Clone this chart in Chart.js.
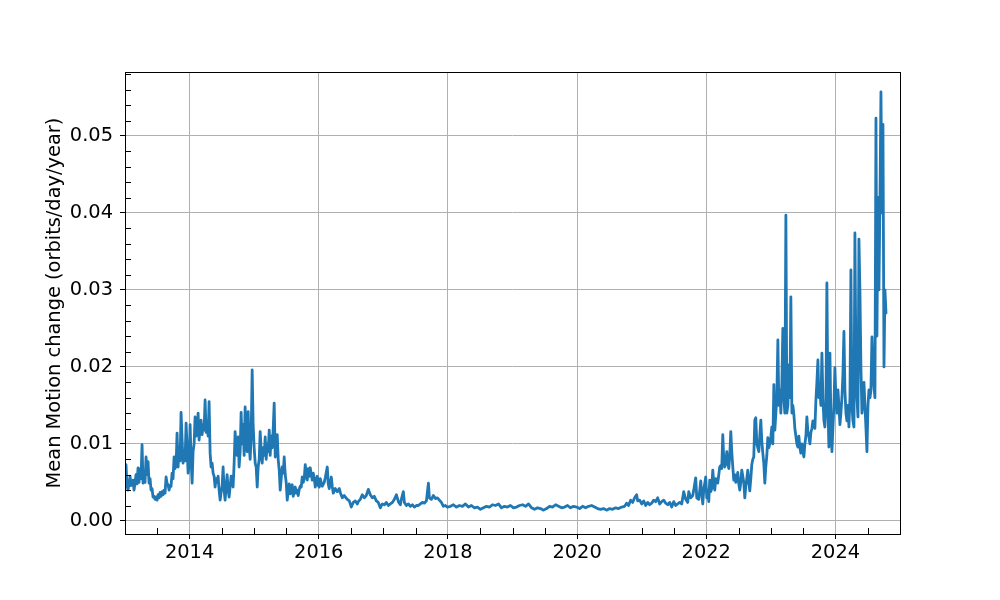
<!DOCTYPE html>
<html><head><meta charset="utf-8">
<script src="https://cdn.jsdelivr.net/npm/chart.js@4.4.1/dist/chart.umd.min.js"></script>
<style>html,body{margin:0;padding:0;background:#fff}</style>
</head><body>
<canvas id="c" width="1000" height="600" style="width:1000px;height:600px;display:block"></canvas>
<script>
// decimal-year dates and mean motion change values (orbits/day/year)
const d2013 = [2013.000,2013.016,2013.031,2013.047,2013.078,2013.093,2013.124,2013.140,2013.171,2013.186,2013.202,2013.217,2013.233,2013.248,2013.264,2013.279,2013.295,2013.310,2013.326,2013.341,2013.357,2013.372,2013.388,2013.403,2013.419,2013.434,2013.450,2013.465,2013.481,2013.496,2013.512,2013.527,2013.543,2013.558,2013.574,2013.589,2013.605,2013.620,2013.636,2013.651,2013.667,2013.682,2013.698,2013.713,2013.729,2013.744,2013.760,2013.775,2013.791,2013.806,2013.822,2013.837,2013.853,2013.868,2013.884,2013.899,2013.915,2013.930,2013.946,2013.961,2013.977,2013.992];
const v2013 = [0.0060,0.0073,0.0045,0.0040,0.0058,0.0046,0.0053,0.0040,0.0060,0.0048,0.0069,0.0050,0.0068,0.0055,0.0099,0.0049,0.0062,0.0050,0.0083,0.0060,0.0077,0.0049,0.0055,0.0040,0.0042,0.0031,0.0032,0.0028,0.0031,0.0027,0.0034,0.0030,0.0037,0.0032,0.0038,0.0034,0.0040,0.0036,0.0057,0.0049,0.0047,0.0040,0.0046,0.0045,0.0062,0.0055,0.0083,0.0068,0.0072,0.0114,0.0070,0.0096,0.0078,0.0141,0.0106,0.0075,0.0092,0.0078,0.0127,0.0095,0.0062,0.0072];
const d2014 = [2014.008,2014.023,2014.039,2014.054,2014.070,2014.085,2014.101,2014.116,2014.132,2014.147,2014.163,2014.178,2014.194,2014.209,2014.225,2014.240,2014.256,2014.271,2014.287,2014.302,2014.318,2014.333,2014.349,2014.364,2014.380,2014.395,2014.411,2014.426,2014.442,2014.457,2014.473,2014.488,2014.504,2014.519,2014.535,2014.550,2014.566,2014.581,2014.597,2014.612,2014.628,2014.643,2014.659,2014.674,2014.690,2014.705,2014.721,2014.736,2014.752,2014.767,2014.783,2014.798,2014.814,2014.829,2014.845,2014.860,2014.876,2014.891,2014.907,2014.922,2014.938,2014.953,2014.969,2014.984];
const v2014 = [0.0125,0.0080,0.0049,0.0090,0.0100,0.0135,0.0110,0.0115,0.0140,0.0105,0.0120,0.0131,0.0112,0.0125,0.0118,0.0157,0.0115,0.0130,0.0110,0.0155,0.0088,0.0070,0.0075,0.0062,0.0058,0.0044,0.0055,0.0050,0.0058,0.0040,0.0027,0.0037,0.0045,0.0070,0.0040,0.0027,0.0045,0.0060,0.0040,0.0031,0.0045,0.0058,0.0050,0.0044,0.0075,0.0116,0.0096,0.0085,0.0109,0.0070,0.0090,0.0141,0.0100,0.0125,0.0085,0.0148,0.0110,0.0090,0.0142,0.0099,0.0080,0.0110,0.0196,0.0125];
const d2015 = [2015.000,2015.016,2015.031,2015.047,2015.062,2015.078,2015.093,2015.109,2015.124,2015.140,2015.155,2015.171,2015.186,2015.202,2015.217,2015.233,2015.248,2015.264,2015.279,2015.295,2015.310,2015.326,2015.341,2015.357,2015.372,2015.388,2015.403,2015.419,2015.434,2015.450,2015.465,2015.481,2015.496,2015.512,2015.527,2015.543,2015.558,2015.574,2015.589,2015.605,2015.620,2015.636,2015.651,2015.667,2015.682,2015.698,2015.713,2015.729,2015.744,2015.760,2015.775,2015.791,2015.806,2015.822,2015.837,2015.853,2015.868,2015.884,2015.899,2015.915,2015.930,2015.946,2015.961,2015.977,2015.992];
const v2015 = [0.0095,0.0075,0.0070,0.0044,0.0070,0.0080,0.0116,0.0090,0.0075,0.0095,0.0085,0.0109,0.0080,0.0100,0.0090,0.0118,0.0085,0.0110,0.0095,0.0120,0.0153,0.0083,0.0095,0.0112,0.0080,0.0066,0.0040,0.0055,0.0070,0.0062,0.0083,0.0060,0.0050,0.0027,0.0040,0.0048,0.0035,0.0043,0.0047,0.0032,0.0040,0.0044,0.0036,0.0040,0.0033,0.0041,0.0045,0.0044,0.0057,0.0050,0.0055,0.0073,0.0060,0.0053,0.0068,0.0058,0.0069,0.0060,0.0053,0.0062,0.0056,0.0044,0.0052,0.0058,0.0046];
const d2016 = [2016.008,2016.023,2016.054,2016.085,2016.101,2016.132,2016.147,2016.163,2016.194,2016.209,2016.225,2016.256,2016.287,2016.318,2016.333,2016.364,2016.395,2016.411,2016.442,2016.473,2016.504,2016.535,2016.566,2016.597,2016.612,2016.643,2016.674,2016.705,2016.736,2016.767,2016.798,2016.829,2016.860,2016.891,2016.922,2016.953,2016.984];
const v2016 = [0.0044,0.0055,0.0045,0.0050,0.0056,0.0070,0.0048,0.0042,0.0057,0.0045,0.0036,0.0042,0.0038,0.0042,0.0037,0.0030,0.0033,0.0031,0.0028,0.0026,0.0018,0.0024,0.0026,0.0022,0.0025,0.0028,0.0034,0.0030,0.0033,0.0041,0.0034,0.0030,0.0032,0.0026,0.0024,0.0017,0.0022];
const d2017 = [2017.016,2017.047,2017.078,2017.109,2017.140,2017.171,2017.202,2017.233,2017.264,2017.279,2017.310,2017.326,2017.357,2017.388,2017.419,2017.450,2017.481,2017.512,2017.543,2017.574,2017.605,2017.636,2017.667,2017.698,2017.713,2017.744,2017.775,2017.806,2017.837,2017.868,2017.899,2017.930,2017.961,2017.992];
const v2017 = [0.0021,0.0024,0.0020,0.0022,0.0024,0.0028,0.0034,0.0025,0.0021,0.0028,0.0038,0.0024,0.0020,0.0022,0.0019,0.0021,0.0018,0.0020,0.0020,0.0022,0.0024,0.0023,0.0026,0.0049,0.0030,0.0028,0.0033,0.0029,0.0030,0.0027,0.0024,0.0019,0.0020,0.0018];
const d2018 = [2018.039,2018.085,2018.132,2018.178,2018.225,2018.271,2018.318,2018.364,2018.411,2018.457,2018.504,2018.550,2018.597,2018.643,2018.690,2018.736,2018.783,2018.829,2018.876,2018.922,2018.969];
const v2018 = [0.0019,0.0021,0.0018,0.0020,0.0019,0.0022,0.0018,0.0020,0.0017,0.0018,0.0015,0.0017,0.0019,0.0018,0.0021,0.0020,0.0022,0.0017,0.0019,0.0018,0.0020];
const d2019 = [2019.016,2019.062,2019.109,2019.155,2019.202,2019.248,2019.295,2019.341,2019.388,2019.434,2019.481,2019.527,2019.574,2019.620,2019.667,2019.713,2019.760,2019.806,2019.853,2019.899,2019.946,2019.992];
const v2019 = [0.0017,0.0018,0.0020,0.0021,0.0019,0.0022,0.0017,0.0015,0.0017,0.0016,0.0014,0.0016,0.0019,0.0018,0.0021,0.0019,0.0017,0.0018,0.0020,0.0017,0.0019,0.0018];
const d2020 = [2020.039,2020.085,2020.132,2020.178,2020.225,2020.271,2020.318,2020.364,2020.411,2020.457,2020.504,2020.550,2020.597,2020.643,2020.690,2020.736,2020.767,2020.798,2020.829,2020.860,2020.891,2020.922,2020.938,2020.969];
const v2020 = [0.0016,0.0019,0.0017,0.0019,0.0020,0.0018,0.0016,0.0015,0.0016,0.0014,0.0016,0.0015,0.0017,0.0016,0.0018,0.0019,0.0023,0.0020,0.0027,0.0024,0.0030,0.0034,0.0026,0.0027];
const d2021 = [2021.000,2021.031,2021.062,2021.093,2021.124,2021.155,2021.186,2021.217,2021.248,2021.279,2021.310,2021.341,2021.372,2021.403,2021.434,2021.465,2021.496,2021.527,2021.558,2021.589,2021.620,2021.651,2021.682,2021.713,2021.729,2021.760,2021.791,2021.806,2021.837,2021.853,2021.884,2021.915,2021.930,2021.946,2021.961,2021.992];
const v2021 = [0.0022,0.0026,0.0020,0.0024,0.0021,0.0023,0.0027,0.0025,0.0030,0.0022,0.0025,0.0027,0.0023,0.0021,0.0024,0.0018,0.0025,0.0020,0.0022,0.0024,0.0022,0.0038,0.0028,0.0024,0.0038,0.0030,0.0033,0.0040,0.0056,0.0030,0.0028,0.0052,0.0035,0.0022,0.0040,0.0057];
const d2022 = [2022.008,2022.023,2022.039,2022.054,2022.070,2022.085,2022.101,2022.116,2022.132,2022.147,2022.163,2022.178,2022.194,2022.209,2022.225,2022.240,2022.256,2022.271,2022.287,2022.302,2022.318,2022.333,2022.349,2022.364,2022.380,2022.395,2022.411,2022.426,2022.442,2022.457,2022.473,2022.488,2022.504,2022.519,2022.535,2022.550,2022.566,2022.581,2022.597,2022.612,2022.628,2022.643,2022.659,2022.674,2022.690,2022.705,2022.721,2022.736,2022.752,2022.767,2022.783,2022.798,2022.814,2022.829,2022.845,2022.860,2022.876,2022.891,2022.907,2022.922,2022.938,2022.953,2022.969,2022.984];
const v2022 = [0.0030,0.0040,0.0025,0.0053,0.0038,0.0042,0.0066,0.0050,0.0040,0.0055,0.0053,0.0049,0.0060,0.0070,0.0072,0.0068,0.0112,0.0080,0.0070,0.0075,0.0090,0.0075,0.0068,0.0085,0.0116,0.0090,0.0070,0.0053,0.0060,0.0050,0.0055,0.0063,0.0048,0.0040,0.0050,0.0066,0.0058,0.0050,0.0030,0.0045,0.0055,0.0066,0.0050,0.0039,0.0055,0.0073,0.0080,0.0083,0.0131,0.0134,0.0100,0.0095,0.0090,0.0110,0.0131,0.0104,0.0088,0.0075,0.0049,0.0070,0.0085,0.0108,0.0095,0.0100];
const d2023 = [2023.000,2023.016,2023.031,2023.047,2023.062,2023.078,2023.093,2023.109,2023.124,2023.140,2023.155,2023.171,2023.186,2023.202,2023.217,2023.233,2023.248,2023.264,2023.279,2023.295,2023.310,2023.326,2023.341,2023.357,2023.372,2023.388,2023.403,2023.419,2023.434,2023.450,2023.465,2023.481,2023.496,2023.512,2023.527,2023.543,2023.558,2023.574,2023.589,2023.605,2023.620,2023.636,2023.651,2023.667,2023.682,2023.698,2023.713,2023.729,2023.744,2023.760,2023.775,2023.791,2023.806,2023.822,2023.837,2023.853,2023.868,2023.884,2023.899,2023.915,2023.930,2023.946,2023.961,2023.977,2023.992];
const v2023 = [0.0109,0.0122,0.0100,0.0177,0.0118,0.0140,0.0160,0.0235,0.0150,0.0170,0.0140,0.0180,0.0250,0.0160,0.0140,0.0397,0.0140,0.0150,0.0203,0.0160,0.0291,0.0140,0.0150,0.0138,0.0120,0.0110,0.0100,0.0096,0.0110,0.0095,0.0088,0.0100,0.0090,0.0083,0.0100,0.0110,0.0135,0.0115,0.0110,0.0100,0.0115,0.0120,0.0130,0.0125,0.0120,0.0157,0.0180,0.0209,0.0160,0.0170,0.0150,0.0218,0.0160,0.0130,0.0122,0.0150,0.0309,0.0150,0.0096,0.0218,0.0130,0.0090,0.0120,0.0150,0.0199];
const d2024 = [2024.008,2024.023,2024.039,2024.054,2024.070,2024.085,2024.101,2024.116,2024.132,2024.147,2024.163,2024.178,2024.194,2024.209,2024.225,2024.240,2024.256,2024.271,2024.287,2024.302,2024.318,2024.333,2024.349,2024.364,2024.380,2024.395,2024.411,2024.426,2024.442,2024.457,2024.473,2024.488,2024.504,2024.519,2024.535,2024.550,2024.566,2024.581,2024.597,2024.612,2024.628,2024.643,2024.659,2024.674,2024.690,2024.705,2024.721,2024.736,2024.752,2024.767,2024.783];
const v2024 = [0.0160,0.0140,0.0170,0.0150,0.0125,0.0140,0.0160,0.0190,0.0246,0.0170,0.0140,0.0130,0.0150,0.0122,0.0160,0.0326,0.0150,0.0130,0.0122,0.0374,0.0200,0.0160,0.0135,0.0366,0.0296,0.0200,0.0140,0.0155,0.0180,0.0150,0.0120,0.0090,0.0150,0.0170,0.0160,0.0170,0.0239,0.0200,0.0174,0.0160,0.0523,0.0240,0.0420,0.0300,0.0420,0.0557,0.0400,0.0515,0.0200,0.0300,0.0270];

const xMajorLabels = [2014, 2016, 2018, 2020, 2022, 2024];
const yMajorLabels = ['0.00', '0.01', '0.02', '0.03', '0.04', '0.05'];
const yAxisTitle = 'Mean Motion change (orbits/day/year)';

const dateSets = [d2013,d2014,d2015,d2016,d2017,d2018,d2019,d2020,d2021,d2022,d2023,d2024];
const valueSets = [v2013,v2014,v2015,v2016,v2017,v2018,v2019,v2020,v2021,v2022,v2023,v2024];
const points = [];
dateSets.forEach((ds, k) => {
  const vs = valueSets[k];
  const n = Math.min(ds.length, vs.length);
  for (let i = 0; i < n; i++) points.push({x: ds[i], y: vs[i]});
});

const xTickVals = [];
for (let i = 0; i <= 24; i++) xTickVals.push(2013 + i * 0.5);
const yTickVals = [];
for (let i = 0; i <= 29; i++) yTickVals.push(+(i * 0.002).toFixed(3));
const isMajorX = v => xMajorLabels.includes(v);
const isMajorY = v => Math.round(v * 1000) % 10 === 0;

const FONT = {family: "'DejaVu Sans'", size: 19.4};

const minorTicks = {
  id: 'minorTicks',
  afterDraw(chart) {
    const {ctx, chartArea: a, scales: {x, y}} = chart;
    ctx.save();
    ctx.strokeStyle = '#000';
    ctx.lineWidth = 1;
    ctx.beginPath();
    x.ticks.forEach(t => {
      if (!isMajorX(t.value)) {
        const px = Math.round(x.getPixelForValue(t.value)) + 0.5;
        ctx.moveTo(px, a.bottom); ctx.lineTo(px, a.bottom - 6);
      }
    });
    y.ticks.forEach(t => {
      if (!isMajorY(t.value)) {
        const py = Math.round(y.getPixelForValue(t.value)) + 0.5;
        ctx.moveTo(a.left, py); ctx.lineTo(a.left + 6, py);
      }
    });
    ctx.stroke();
    ctx.strokeRect(Math.round(a.left) + 0.5, Math.round(a.top) + 0.5, Math.round(a.right - a.left), Math.round(a.bottom - a.top));
    ctx.restore();
  }
};

new Chart(document.getElementById('c'), {
  type: 'line',
  data: {
    datasets: [{
      data: points,
      borderColor: '#1f77b4',
      borderWidth: 2.8,
      pointRadius: 0,
      tension: 0,
      fill: false,
      borderJoinStyle: 'round',
      borderCapStyle: 'round'
    }]
  },
  options: {
    responsive: false,
    animation: false,
    devicePixelRatio: 1,
    layout: {padding: {top: 72, right: 100, left: 43, bottom: 0}},
    plugins: {legend: {display: false}, tooltip: {enabled: false}},
    scales: {
      x: {
        type: 'linear',
        min: 2013,
        max: 2025,
        afterBuildTicks: s => { s.ticks = xTickVals.map(v => ({value: v})); },
        afterFit: s => { s.height = 66; },
        ticks: {
          autoSkip: false, maxRotation: 0, minRotation: 0,
          color: '#000', font: FONT, padding: 2,
          callback: v => isMajorX(v) ? String(v) : ''
        },
        grid: {
          color: c => (c.tick && isMajorX(c.tick.value)) ? '#b0b0b0' : 'rgba(0,0,0,0)',
          tickColor: c => (c.tick && isMajorX(c.tick.value)) ? '#000' : 'rgba(0,0,0,0)',
          tickLength: 5,
          lineWidth: 1
        },
        border: {display: false}
      },
      y: {
        type: 'linear',
        min: -0.0017,
        max: 0.0583,
        afterBuildTicks: s => { s.ticks = yTickVals.map(v => ({value: v})); },
        afterFit: s => { s.width = 82; },
        ticks: {
          autoSkip: false, color: '#000', font: FONT, padding: 7,
          callback: v => isMajorY(v) ? yMajorLabels[Math.round(v * 100)] : ''
        },
        grid: {
          color: c => (c.tick && isMajorY(c.tick.value)) ? '#b0b0b0' : 'rgba(0,0,0,0)',
          tickColor: c => (c.tick && isMajorY(c.tick.value)) ? '#000' : 'rgba(0,0,0,0)',
          tickLength: 5,
          lineWidth: 1
        },
        border: {display: false},
        title: {display: true, text: yAxisTitle, color: '#000', font: FONT, padding: 0}
      }
    }
  },
  plugins: [minorTicks]
});
</script>
</body></html>
